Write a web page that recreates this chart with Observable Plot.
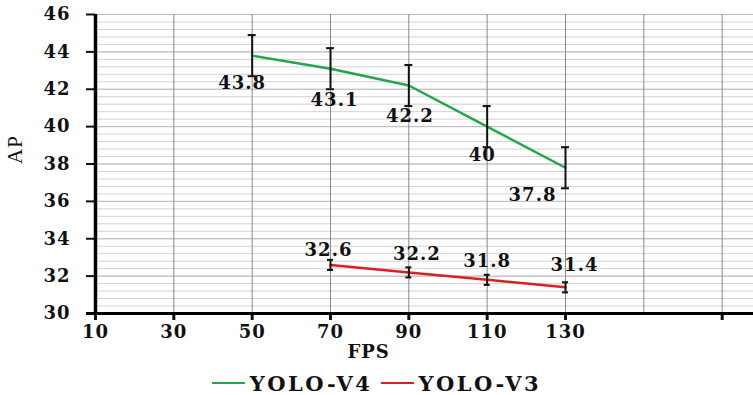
<!DOCTYPE html>
<html><head><meta charset="utf-8">
<script src="https://cdn.jsdelivr.net/npm/d3@7"></script>
<script src="https://cdn.jsdelivr.net/npm/@observablehq/plot@0.6"></script>
<style>
body{margin:0;background:#fff;}
#chart{width:753px;}
.legend{display:flex;justify-content:center;align-items:center;height:26px;width:753px;font-family:"DejaVu Serif";font-weight:bold;font-size:21px;letter-spacing:2.5px;color:#111;}
.legend .sw{display:inline-block;width:33px;height:2.5px;margin-right:5px;}
.legend .item{display:flex;align-items:center;margin:0 4px;}
</style></head><body><div id="chart"></div>
<script>
const fpsV4 = [50, 70, 90, 110, 130];
const apV4 = [43.8, 43.1, 42.2, 40, 37.8];
const errV4 = [1.1, 1.1, 1.1, 1.1, 1.1];
const fpsV3 = [70, 90, 110, 130];
const apV3 = [32.6, 32.2, 31.8, 31.4];
const errV3 = [0.27, 0.27, 0.27, 0.27];
const xTicks = [10, 30, 50, 70, 90, 110, 130];
const xGrid = [30, 50, 70, 90, 110, 130, 150, 170];
const yTicks = [30, 32, 34, 36, 38, 40, 42, 44, 46];
const seriesNames = ["YOLO-V4", "YOLO-V3"];
const seriesColors = ["#22a64c", "#dc2020"];

// label placement (pixels, layout only)
const v4LabelDx = [-10, 4, 1, -5, -33], v4LabelDy = [28, 32, 31, 29, 27];
const v3LabelDx = [-2, 8, 0, 9], v3LabelDy = [-15, -18, -19, -22];

const v4 = fpsV4.map((f, i) => ({fps: f, ap: apV4[i], err: errV4[i]}));
const v3 = fpsV3.map((f, i) => ({fps: f, ap: apV3[i], err: errV3[i]}));
const minor = d3.range(30, 46.001, 0.4).map(v => +v.toFixed(1));

const labelMarks = [
  ...v4.map((d, i) => Plot.text([d], {x: "fps", y: "ap", text: d => String(d.ap), dx: v4LabelDx[i], dy: v4LabelDy[i], fill: "#111"})),
  ...v3.map((d, i) => Plot.text([d], {x: "fps", y: "ap", text: d => String(d.ap), dx: v3LabelDx[i], dy: v3LabelDy[i], fill: "#111"}))
];

const errMarks = (data, cap) => [
  Plot.ruleX(data, {x: "fps", y1: d => d.ap - d.err, y2: d => d.ap + d.err, stroke: "#111", strokeWidth: 2}),
  Plot.ruleY(data, {y: d => d.ap - d.err, x1: "fps", x2: "fps", insetLeft: -cap, insetRight: -cap, stroke: "#111", strokeWidth: 2}),
  Plot.ruleY(data, {y: d => d.ap + d.err, x1: "fps", x2: "fps", insetLeft: -cap, insetRight: -cap, stroke: "#111", strokeWidth: 2})
];

const chart = Plot.plot({
  width: 753, height: 370,
  marginLeft: 95, marginRight: 0, marginTop: 14, marginBottom: 57,
  style: {fontFamily: "DejaVu Serif", fontWeight: "bold", fontSize: "18px", letterSpacing: "1px", color: "#111", background: "#fff"},
  x: {domain: [10, 178]},
  y: {domain: [30, 46]},
  marks: [
    Plot.gridY(minor, {stroke: "#d3d3d3", strokeOpacity: 1, strokeWidth: 1}),
    Plot.gridY(yTicks, {stroke: "#bdbdbd", strokeOpacity: 1, strokeWidth: 1}),
    Plot.gridX(xGrid, {stroke: "#8a8a8a", strokeOpacity: 1, strokeWidth: 1}),
    Plot.axisY({ticks: yTicks, tickSize: 9, tickPadding: 16, strokeWidth: 2, label: null, fill: "#111"}),
    Plot.axisX({ticks: xTicks, tickSize: 7, tickPadding: 5, strokeWidth: 3, label: null, fill: "#111"}),
    Plot.axisX({ticks: [170], tickSize: 7, strokeWidth: 3, tickFormat: () => "", label: null}),
    Plot.ruleX([10], {stroke: "#000", strokeWidth: 3.5}),
    Plot.ruleY([30], {stroke: "#000", strokeWidth: 3, insetLeft: -9}),
    Plot.line(v4, {x: "fps", y: "ap", stroke: seriesColors[0], strokeWidth: 2.5}),
    Plot.line(v3, {x: "fps", y: "ap", stroke: seriesColors[1], strokeWidth: 2.5}),
    ...errMarks(v4, 4),
    ...errMarks(v3, 3),
    ...labelMarks,
    Plot.text(["AP"], {frameAnchor: "left", text: d => d, rotate: -90, dx: -80, fontFamily: "Liberation Serif", fontWeight: "normal", fontSize: 21, fill: "#111"}),
    Plot.text(["FPS"], {frameAnchor: "bottom-left", text: d => d, dx: 252, dy: 44, letterSpacing: 2, fill: "#111"})
  ]
});
document.getElementById("chart").appendChild(chart);

const legend = document.createElement("div");
legend.className = "legend";
seriesNames.forEach((name, i) => {
  const item = document.createElement("div");
  item.className = "item";
  const sw = document.createElement("span");
  sw.className = "sw";
  sw.style.background = seriesColors[i];
  const t = document.createElement("span");
  t.textContent = name;
  item.appendChild(sw); item.appendChild(t);
  legend.appendChild(item);
});
document.getElementById("chart").appendChild(legend);
</script>
</body></html>
